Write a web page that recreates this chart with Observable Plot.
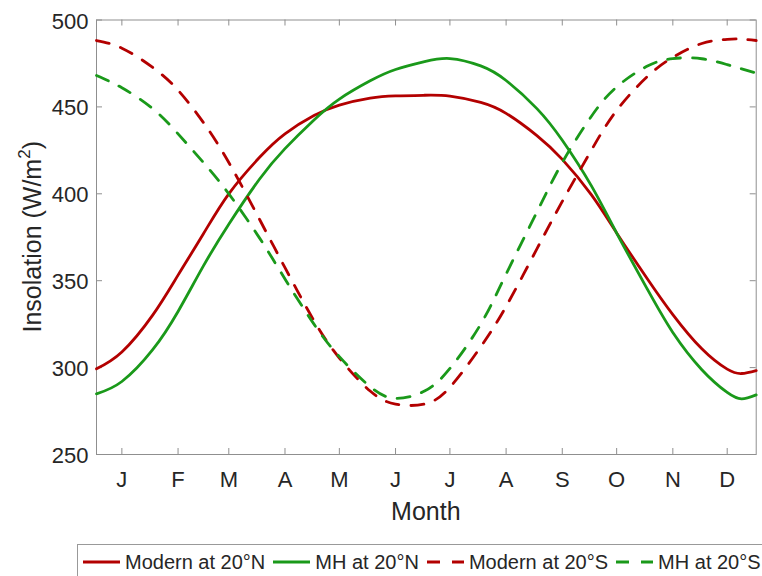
<!DOCTYPE html>
<html>
<head>
<meta charset="utf-8">
<script src="https://cdn.jsdelivr.net/npm/d3@7"></script>
<script src="https://cdn.jsdelivr.net/npm/@observablehq/plot@0.6"></script>
<style>
  html, body { margin: 0; padding: 0; background: #fff; }
  body { width: 762px; height: 576px; overflow: hidden; position: relative;
         font-family: "Liberation Sans", Arial, Helvetica, sans-serif; color: #262626; }
  #chart { position: absolute; left: 0; top: 0; }
  #legend { position: absolute; left: 77px; top: 544px; width: 720px; height: 36px;
            border: 1px solid #999; background: #fff; display: flex; align-items: center;
            padding-left: 5px; box-sizing: border-box; white-space: nowrap; }
  .item { display: inline-flex; align-items: center; font-size: 20px; margin-right: 8px; }
  .item svg { margin-right: 5px; }
</style>
</head>
<body>
<div id="chart"></div>
<div id="legend"></div>
<script>
// Day of year (sample points along each curve)
const days = [1, 15, 32, 46, 60, 74, 91, 105, 121, 135, 152, 166, 182, 196, 213, 227, 244, 258, 274, 288, 305, 319, 335, 349, 357, 365];

// Daily insolation, W/m^2
const modern20N = [299.3, 309, 330.2, 353.2, 377, 400, 421, 434.5, 445, 451, 455, 456.3, 456.7, 456.2, 452.6, 446.3, 433.5, 419.8, 399.5, 377.5, 351, 330.5, 310.8, 299.1, 296.6, 298.3];
const mh20N     = [284.9, 292, 310.3, 332.3, 358.5, 382.5, 408.5, 426, 442.5, 454.5, 465, 471.5, 476, 477.8, 473.6, 465.2, 449, 430.8, 404.7, 377.4, 345, 320.2, 298.8, 285.7, 282.0, 284.3];
const modern20S = [488.2, 483.8, 472.7, 459.6, 441, 418, 385.2, 357.5, 327, 305.5, 286.5, 279, 279, 288.7, 312, 335.2, 368.3, 395.6, 425, 448, 467.5, 478.5, 486.5, 488.9, 489.0, 488.2];
const mh20S     = [468.1, 461, 449, 434.5, 418, 400, 374.5, 351, 325, 306.3, 289, 282.3, 286.5, 299.5, 325, 353.8, 389.5, 418, 444.5, 461.5, 473.5, 477.8, 477.7, 474.3, 471.9, 469.5];

// Series labels and styling
const seriesNames  = ["Modern at 20°N", "MH at 20°N", "Modern at 20°S", "MH at 20°S"];
const seriesValues = [modern20N, mh20N, modern20S, mh20S];
const seriesColors = ["#b30000", "#1a991a", "#b30000", "#1a991a"];
const seriesDashes = [null, null, "13,12", "13,12"];

// Axis ticks
const monthTickDays = [15, 46, 74, 105, 135, 166, 196, 227, 258, 288, 319, 349];
const monthLetters  = ["J", "F", "M", "A", "M", "J", "J", "A", "S", "O", "N", "D"];
const yTicks = [250, 300, 350, 400, 450, 500];

const W = 762, H = 540;
const mL = 96, mR = 6.3, mT = 19.5, mB = 86;
const frameW = W - mL - mR, frameH = H - mT - mB;
const axisGray = "#8f8f8f";
const textColor = "#262626";
const lineWidth = 2.8;

const lineMarks = seriesValues.map((vals, k) =>
  Plot.line(days.map((d, i) => ({day: d, value: vals[i]})), {
    x: "day", y: "value", curve: "natural",
    stroke: seriesColors[k], strokeWidth: lineWidth,
    strokeDasharray: seriesDashes[k] ?? undefined
  })
);

const chart = Plot.plot({
  width: W, height: H,
  marginLeft: mL, marginRight: mR, marginTop: mT, marginBottom: mB,
  style: {fontFamily: '"Liberation Sans", Arial, Helvetica, sans-serif', color: textColor, background: "white", overflow: "visible"},
  x: {domain: [1, 365], label: null},
  y: {domain: [250, 500], label: null},
  marks: [
    Plot.frame({stroke: axisGray, strokeWidth: 1}),
    // inward ticks on all four sides
    Plot.tickX(monthTickDays, {x: d => d, stroke: axisGray, insetTop: frameH - 6}),
    Plot.tickX(monthTickDays, {x: d => d, stroke: axisGray, insetBottom: frameH - 6}),
    Plot.tickY(yTicks, {y: d => d, stroke: axisGray, insetRight: frameW - 6}),
    Plot.tickY(yTicks, {y: d => d, stroke: axisGray, insetLeft: frameW - 6}),
    Plot.axisX({ticks: monthTickDays, tickSize: 0, tickPadding: 17, fontSize: 22,
                tickFormat: d => monthLetters[monthTickDays.indexOf(d)], label: null, fill: textColor}),
    Plot.axisY({ticks: yTicks, tickSize: 0, tickPadding: 8, fontSize: 22, dy: 1.5,
                tickFormat: d => String(d), label: null, fill: textColor}),
    ...lineMarks
  ]
});
document.getElementById("chart").appendChild(chart);

// Axis titles
const xs = chart.scale("x"), ys = chart.scale("y");
const cx = (xs.range[0] + xs.range[1]) / 2;
const cy = (ys.range[0] + ys.range[1]) / 2;
const svg = d3.select(chart);
svg.append("text")
  .attr("x", cx).attr("y", 520)
  .attr("text-anchor", "middle").attr("font-size", 25).attr("fill", textColor)
  .text("Month");
const yt = svg.append("text")
  .attr("transform", `translate(41,${cy}) rotate(-90)`)
  .attr("text-anchor", "middle").attr("font-size", 25).attr("fill", textColor);
yt.append("tspan").text("Insolation (W/m");
yt.append("tspan").attr("font-size", 17).attr("dy", -11).text("2");
yt.append("tspan").attr("dy", 11).text(")");

// Legend
const legend = d3.select("#legend");
seriesNames.forEach((name, k) => {
  const item = legend.append("span").attr("class", "item");
  const sw = item.append("svg").attr("width", 37).attr("height", 10);
  sw.append("line").attr("x1", 0).attr("x2", 37).attr("y1", 5).attr("y2", 5)
    .attr("stroke", seriesColors[k]).attr("stroke-width", lineWidth)
    .attr("stroke-dasharray", seriesDashes[k]);
  item.append("span").text(name);
});
</script>
</body>
</html>
